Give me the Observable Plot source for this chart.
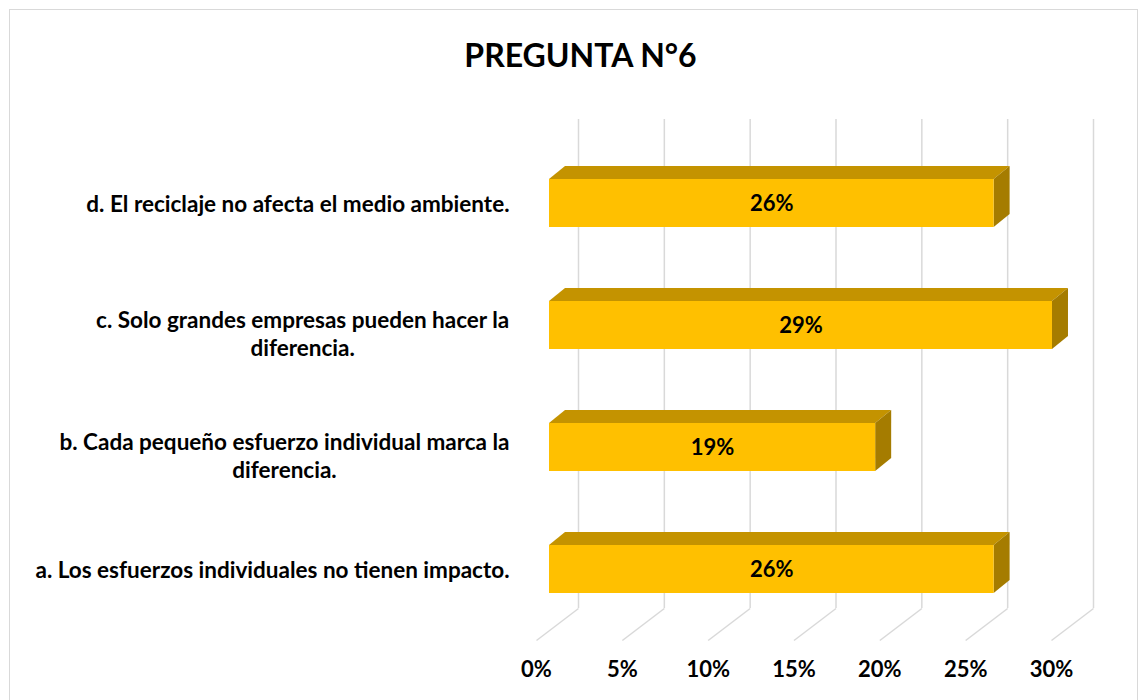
<!DOCTYPE html>
<html>
<head>
<meta charset="utf-8">
<script src="https://cdn.jsdelivr.net/npm/d3@7"></script>
<script src="https://cdn.jsdelivr.net/npm/@observablehq/plot@0.6"></script>
<style>
  html, body { margin: 0; padding: 0; background: #fff; }
  body { width: 1138px; height: 700px; position: relative; overflow: hidden; font-family: Lato, "Open Sans", sans-serif; }
  #frame { position: absolute; left: 9px; top: 9px; width: 1129px; height: 720px; border: 1px solid #d9d9d9; box-sizing: border-box; }
  #title { position: absolute; left: 0; top: 30px; width: 1161px; text-align: center; font-weight: 700; font-size: 32px; line-height: 50px; color: #000; margin: 0; }
  #chart { position: absolute; left: 0; top: 110px; }
</style>
</head>
<body>
<div id="frame"></div>
<div id="title">PREGUNTA N°6</div>
<div id="chart"></div>
<script>
// ---- data (bottom to top) ----
const categories = [
  "a. Los esfuerzos individuales no tienen impacto.",
  "b. Cada pequeño esfuerzo individual marca la\ndiferencia.",
  "c. Solo grandes empresas pueden hacer la\ndiferencia.",
  "d. El reciclaje no afecta el medio ambiente."
];
const values = [0.259, 0.190, 0.293, 0.259];
const xTicks = [0, 0.05, 0.10, 0.15, 0.20, 0.25, 0.30];
const tickLabels = ["0%", "5%", "10%", "15%", "20%", "25%", "30%"];

// ---- geometry (pixels) ----
const W = 1138, H = 590;
const mL = 549, mR = 74, mT = 32, mB = 70;
const kx = (W - mL - mR) / 0.30;        // px per x unit
const ky = (H - mT - mB) / 4;           // px per y unit (domain -0.5..3.5)
const FONT = "Lato";
const catSize = 22.5, numSize = 22;
const half = 24 / ky;                   // half bar thickness
const depX = 16 / kx, depY = 13 / ky;   // bar depth offset
const gridTop = 3.5 + (mT - 9) / ky;
const backBottom = -0.5 - (498 - (H - mB)) / ky;
const floorFront = -0.5 - (530 - (H - mB)) / ky;

const rows = categories.map((c, i) => ({cat: c, i, v: values[i]}));

// top face: parallelogram (areaX)
const topFace = rows.flatMap(d => [
  {cat: d.cat, y: d.i + half, x1: 0, x2: d.v},
  {cat: d.cat, y: d.i + half + depY, x1: depX, x2: d.v + depX}
]);
// side face: parallelogram (areaY)
const sideFace = rows.flatMap(d => [
  {cat: d.cat, x: d.v, y1: d.i - half, y2: d.i + half},
  {cat: d.cat, x: d.v + depX, y1: d.i - half + depY, y2: d.i + half + depY}
]);

// category label placement: lines centered in a block right-aligned to the axis
const ctx = document.createElement("canvas").getContext("2d");
ctx.font = `bold ${catSize}px ${FONT}`;
const labelRows = rows.map(d => {
  const lines = d.cat.split("\n");
  const w = Math.max(...lines.map(l => ctx.measureText(l).width));
  return {...d, xc: (-40 - w / 2) / kx, yc: d.i - (lines.length > 1 ? 8 / ky : 0)};
});

const pct = d3.format(".0%");

const plot = Plot.plot({
  width: W, height: H,
  marginLeft: mL, marginRight: mR, marginTop: mT, marginBottom: mB,
  x: {domain: [0, 0.30], axis: null},
  y: {domain: [-0.5, 3.5], axis: null},
  style: {fontFamily: FONT, color: "#000", background: "transparent"},
  marks: [
    Plot.ruleX(xTicks, {x: d => d, dx: 29, y1: backBottom, y2: gridTop, stroke: "#d9d9d9", strokeWidth: 1.5}),
    Plot.link(xTicks, {x1: d => d + 29 / kx, y1: backBottom, x2: d => d - 13 / kx, y2: floorFront, stroke: "#d9d9d9", strokeWidth: 1.5}),
    Plot.areaX(topFace, {y: "y", x1: "x1", x2: "x2", z: "cat", fill: "#C49300", curve: "linear"}),
    Plot.areaY(sideFace, {x: "x", y1: "y1", y2: "y2", z: "cat", fill: "#A57C00", curve: "linear"}),
    Plot.rect(rows, {x1: 0, x2: "v", y1: d => d.i - half, y2: d => d.i + half, fill: "#FFC000"}),
    Plot.text(rows, {x: d => d.v / 2, y: "i", text: d => pct(d.v), fontSize: numSize, fontWeight: "bold", fill: "#000"}),
    Plot.text(xTicks, {x: d => d - 13 / kx, y: floorFront, dy: 29, text: (d, i) => tickLabels[i], fontSize: numSize, fontWeight: "bold", fill: "#000"}),
    Plot.text(labelRows, {x: "xc", y: "yc", text: "cat", textAnchor: "middle", lineHeight: 28 / catSize, fontSize: catSize, fontWeight: "bold", fill: "#000"})
  ]
});
document.getElementById("chart").appendChild(plot);
</script>
</body>
</html>
